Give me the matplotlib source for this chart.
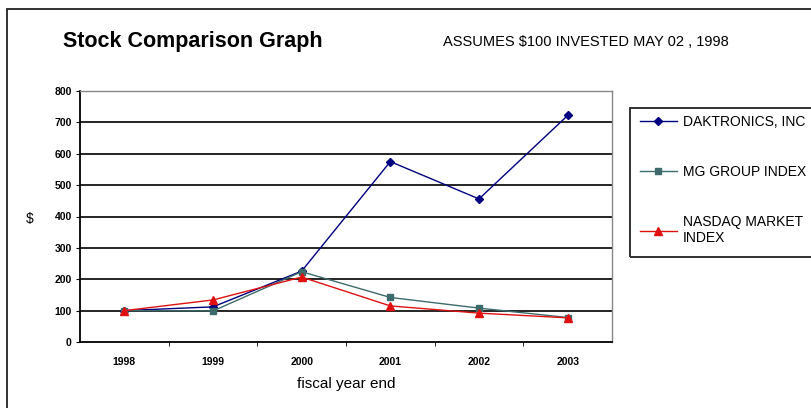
import matplotlib
matplotlib.use("Agg")
import matplotlib.pyplot as plt
import numpy as np

years = ["1998", "1999", "2000", "2001", "2002", "2003"]
daktronics = [100, 112, 226, 575, 456, 722]
mg_group = [100, 99, 224, 142, 108, 78]
nasdaq = [100, 134, 207, 115, 92, 77]
series_names = ["DAKTRONICS, INC", "MG GROUP INDEX", "NASDAQ MARKET\nINDEX"]
y_ticks = [0, 100, 200, 300, 400, 500, 600, 700, 800]

plt.rcParams['font.family'] = ['Liberation Sans', 'DejaVu Sans']

W, H = 812, 408
fig = plt.figure(figsize=(W / 100, H / 100), dpi=100)

# outer chart frame (right and bottom edges run off the image)
frame = plt.Rectangle((7 / W, -0.1), 1.2, 1 - 9 / H + 0.1, transform=fig.transFigure,
                      fill=False, edgecolor="#222222", linewidth=1.3)
fig.patches.append(frame)

# legend box, also running off the right edge
legbox = plt.Rectangle((630 / W, 1 - 257 / H), 1.0, (257 - 108) / H, transform=fig.transFigure,
                       fill=False, edgecolor="#222222", linewidth=1.3)
fig.patches.append(legbox)

ax = fig.add_axes([80 / W, (H - 342) / H, (612 - 80) / W, (342 - 91) / H])
x = np.arange(len(years))

ax.plot(x, daktronics, color="#000080", marker="D", markersize=4.5, linewidth=1,
        label=series_names[0], zorder=3)
ax.plot(x, mg_group, color="#3d6b6b", marker="s", markersize=5, linewidth=1,
        label=series_names[1], zorder=3)
ax.plot(x, nasdaq, color="#e01010", marker="^", markersize=6, linewidth=1,
        label=series_names[2], zorder=4)

ax.set_xlim(-0.5, len(years) - 0.5)
ax.set_ylim(0, 800)
ax.set_yticks(y_ticks)
ax.set_yticklabels([str(v) for v in y_ticks], fontsize=7.5, fontweight="bold")
ax.set_xticks(x)
ax.set_xticklabels(years, fontsize=7.5, fontweight="bold")
ax.set_xticks(np.arange(len(years) - 1) + 0.5, minor=True)
ax.tick_params(axis="x", which="major", length=0, pad=11)
ax.tick_params(axis="x", which="minor", length=3, direction="out")
ax.tick_params(axis="y", length=3, direction="out", pad=3)

for v in y_ticks[1:-1]:
    ax.axhline(v, color="black", linewidth=1.2, zorder=1)

for side in ["left", "bottom"]:
    ax.spines[side].set_linewidth(1.3)
    ax.spines[side].set_color("black")
for side in ["top", "right"]:
    ax.spines[side].set_color("#888888")
    ax.spines[side].set_linewidth(1.0)

ax.set_xlabel("fiscal year end", fontsize=11, labelpad=7)
fig.text(30 / W, 1 - 219 / H, "$", fontsize=10, ha="center", va="center")

fig.text(63 / W, 1 - 42 / H, "Stock Comparison Graph", fontsize=15.5, fontweight="bold",
         va="center", ha="left")
fig.text(443 / W, 1 - 42 / H, "ASSUMES $100 INVESTED MAY 02 , 1998", fontsize=10.5,
         va="center", ha="left")

leg = fig.legend(loc="upper left", bbox_to_anchor=(640 / W, 1 - 115 / H),
                 fontsize=10, frameon=False, borderpad=0, borderaxespad=0,
                 handlelength=2.66, labelspacing=2.6, handletextpad=0.43)

fig.savefig("out.png", dpi=100)
